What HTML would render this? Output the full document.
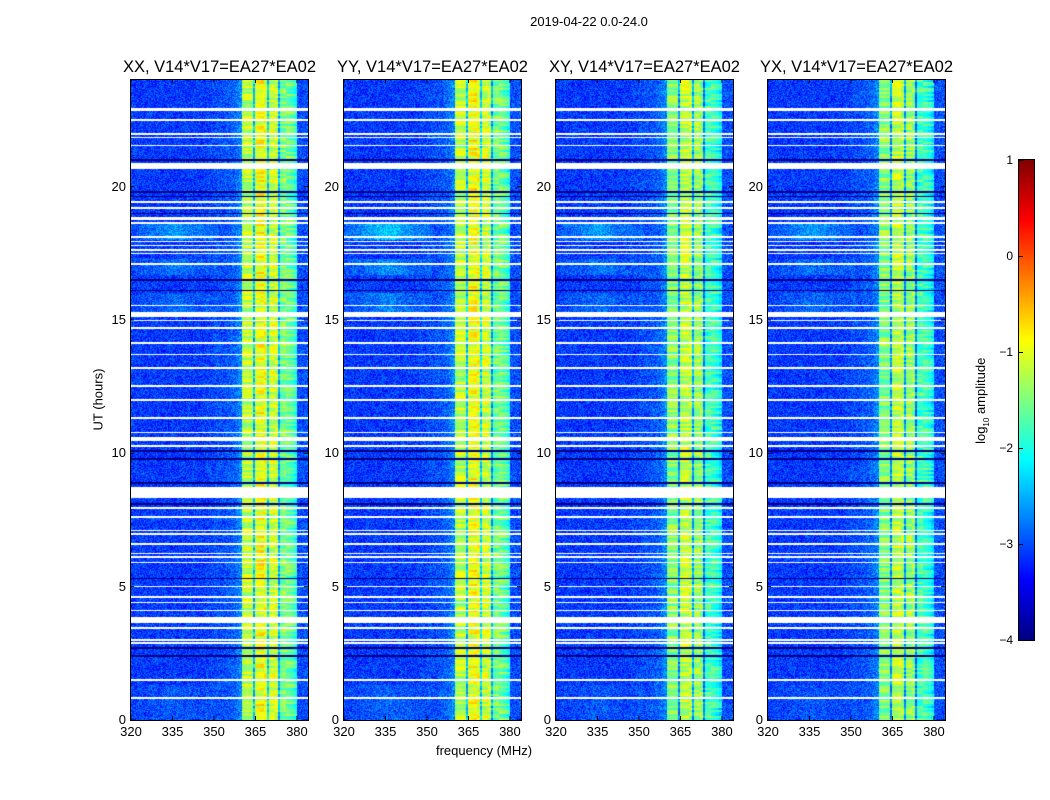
<!DOCTYPE html>
<html><head><meta charset="utf-8">
<style>
body{margin:0;background:#fff;width:1050px;height:800px;overflow:hidden;font-family:"Liberation Sans","DejaVu Sans",sans-serif;}
#wrap{position:relative;width:1050px;height:800px;}
.t{position:absolute;white-space:nowrap;color:#000;}
canvas{position:absolute;}
</style></head><body>
<div id="wrap">
<div class="t" style="left:489px;top:14px;width:200px;text-align:center;font-size:13px;">2019-04-22 0.0-24.0</div>
<div class="t" style="left:48px;top:392px;width:100px;text-align:center;font-size:13px;transform:rotate(-90deg);">UT (hours)</div>
<div class="t" style="left:384px;top:743px;width:200px;text-align:center;font-size:13px;">frequency (MHz)</div>
<div class="t" style="left:922px;top:392px;width:120px;text-align:center;font-size:13px;transform:rotate(-90deg);">log<sub style="font-size:8px">10</sub> amplitude</div>
<canvas id="cb" width="15" height="480" style="left:1019px;top:160px;border:1px solid #000;box-sizing:content-box;margin:-1px;"></canvas>
</div>
<script>
const panelTitles=["XX, V14*V17=EA27*EA02","YY, V14*V17=EA27*EA02","XY, V14*V17=EA27*EA02","YX, V14*V17=EA27*EA02"];
const panelLeft=[131,344,556,768];
const panelBandOffset=[0,0,-0.25,-0.25];
const xTicks=[320,335,350,365,380];
const yTicks=[0,5,10,15,20];
const cbTicks=[-4,-3,-2,-1,0,1];
// log10 amplitude per 1-MHz channel, 320..383 MHz
const chanProfile=[-3.1,-3.1,-3.1,-3.1,-3.1,-3.1,-3.1,-3.1,-3.1,-3.1,
-3.1,-3.1,-3.1,-3.1,-3.1,-3.1,-3.1,-3.1,-3.1,-3.1,
-3.1,-3.1,-3.1,-3.1,-3.1,-3.1,-3.1,-3.05,-3.05,-3.05,
-3.0,-3.0,-3.0,-3.0,-2.95,-2.95,-2.9,-2.9,-2.8,-2.7,
-1.3,-1.2,-1.2,-1.25,-2.4,-1.0,-0.95,-0.9,-1.0,-2.3,
-1.15,-1.1,-1.15,-2.5,-1.6,-1.5,-1.55,-1.6,-1.7,-1.9,
-3.0,-3.0,-3.0,-3.0];
// flagged (white) time intervals, hours
const flagged=[[22.85,22.95],[22.45,22.52],[21.95,22.02],[21.83,21.88],[21.52,21.58],[20.68,20.88],[19.38,19.45],[19.18,19.25],[18.75,18.85],[18.6,18.67],
[18.08,18.14],[17.92,17.97],[17.78,17.83],[17.6,17.66],[17.48,17.53],[17.05,17.12],[15.52,15.58],[15.1,15.3],[14.95,15.0],[14.65,14.72],[14.1,14.17],[13.68,13.74],[13.18,13.24],
[12.5,12.57],[11.98,12.04],[11.3,11.36],[10.75,10.8],[10.45,10.62],[10.25,10.32],[8.32,8.72],[7.93,8.0],[7.58,7.64],[7.08,7.14],[6.95,7.0],[6.58,6.64],[6.22,6.28],[6.08,6.14],[5.87,5.93],
[4.98,5.04],[4.58,4.64],[4.38,4.44],[4.08,4.14],[3.64,3.86],[3.43,3.49],[2.98,3.04],[2.86,2.92],[1.47,1.55],[0.8,0.86]];
// dark (near-zero) time intervals, hours
const dark=[[20.96,21.04],[19.78,19.84],[19.6,19.66],[18.97,19.03],[16.48,16.53],[16.08,16.13],[10.05,10.12],[9.75,9.82],[8.86,8.94],[8.08,8.13],[5.28,5.33],[2.68,2.73],[2.38,2.43]];
// time segments with elevated background in left part (hours, boost)
const bgBoost=[[18.0,18.6,0.5],[16.7,17.3,0.3],[15.3,16.0,0.25],[0,1.3,0.15]];

const W=177,H=640,fmin=320,fmax=384,tmax=24,top0=80;
const wrap=document.getElementById('wrap');
function xScale(f){return (f-fmin)/(fmax-fmin)*W;}
function yScale(h){return H-h/tmax*H;}
function jet(t){t=Math.max(0,Math.min(1,t));
 const r=Math.max(0,Math.min(1,1.5-Math.abs(4*t-3)));
 const g=Math.max(0,Math.min(1,1.5-Math.abs(4*t-2)));
 const b=Math.max(0,Math.min(1,1.5-Math.abs(4*t-1)));
 return [r*255|0,g*255|0,b*255|0];}
function hash(a,b){let h=(a*374761393+b*668265263)|0;h=(h^(h>>>13))*1274126177|0;return ((h^(h>>>16))>>>0)/4294967296;}
function inIv(list,h){for(const iv of list){if(h>=iv[0]&&h<=iv[1])return iv;}return null;}
function addText(txt,x,y,name,style){const d=document.createElement('div');d.className='t';d.textContent=txt;
 
 
 d.style.cssText+=style;d.style.left=x+'px';d.style.top=y+'px';wrap.appendChild(d);return d;}

panelLeft.forEach((L,p)=>{
 const c=document.createElement('canvas');c.width=W;c.height=H;
 c.style.left=L+'px';c.style.top=top0+'px';
 
 
 wrap.appendChild(c);
 const ctx=c.getContext('2d');const img=ctx.createImageData(W,H);
 for(let y=0;y<H;y++){
  const h=(H-y-0.5)/H*tmax;
  const fl=inIv(flagged,h), dk=inIv(dark,h), bb=inIv(bgBoost,h);
  for(let x=0;x<W;x++){
   let r,g,b;
   if(fl){r=g=b=255;}
   else{
    const f=fmin+(x+0.5)/W*(fmax-fmin);
    const ch=Math.min(chanProfile.length-1,Math.floor(f-fmin));
    let v=chanProfile[ch];
    const inBand=v>-2.6;
    if(inBand){v+=panelBandOffset[p]+(hash(y>>1,p*31+(ch>>2))-0.5)*0.7+(hash(x,y)-0.5)*0.15;}
    else{ if(bb&&f<352)v+=bb[2]*(p==1?1.5:1)*(1-Math.abs(f-336)/20); v+=(hash(x,y+p*1000)-0.5)*0.75;}
    if(dk)v=-4.3;
    [r,g,b]=jet((v+4)/5);
   }
   const i=(y*W+x)*4;img.data[i]=r;img.data[i+1]=g;img.data[i+2]=b;img.data[i+3]=255;
  }
 }
 ctx.putImageData(img,0,0);
 const svgNS='http://www.w3.org/2000/svg';
 const s=document.createElementNS(svgNS,'svg');s.setAttribute('width',W+2);s.setAttribute('height',H+2);
 s.style.cssText='position:absolute;left:'+(L-1)+'px;top:'+(top0-1)+'px;overflow:visible';
 
 
 let html='<rect x="0.5" y="0.5" width="'+(W+1)+'" height="'+(H+1)+'" fill="none" stroke="#000"/>';
 xTicks.forEach(t=>{const x=xScale(t)+1;html+='<line x1="'+x+'" x2="'+x+'" y1="'+(H+1)+'" y2="'+(H-3)+'" stroke="#000"/><line x1="'+x+'" x2="'+x+'" y1="0" y2="4" stroke="#000"/>';});
 yTicks.forEach(t=>{const y=yScale(t)+1;html+='<line x1="0" x2="4" y1="'+y+'" y2="'+y+'" stroke="#000"/><line x1="'+(W+1)+'" x2="'+(W-3)+'" y1="'+y+'" y2="'+y+'" stroke="#000"/>';});
 s.innerHTML=html;wrap.appendChild(s);
 addText(panelTitles[p],L-22,58,'panel-title-'+(p+1),'width:221px;text-align:center;font-size:16.5px;');
 xTicks.forEach(t=>addText(String(t),L+xScale(t)-20,724,'x-tick-label','width:40px;text-align:center;font-size:13px;'));
 yTicks.forEach(t=>addText(String(t),L-45,top0+yScale(t)-8,'y-tick-label','width:40px;text-align:right;font-size:13px;'));
});
const cb=document.getElementById('cb'),cctx=cb.getContext('2d');
for(let y=0;y<480;y++){const [r,g,b]=jet(1-(y+0.5)/480);cctx.fillStyle='rgb('+r+','+g+','+b+')';cctx.fillRect(0,y,15,1);}
cbTicks.forEach(t=>{const y=160+(1-t)/5*480;
 addText(t<0?'\u2212'+(-t):String(t),975,y-7,'colorbar-tick-label','width:38px;text-align:right;font-size:12px;');
 const tk=document.createElement('div');
 
 
 tk.style.cssText='position:absolute;left:1019px;width:4px;height:1px;background:#000;top:'+y+'px';wrap.appendChild(tk);
});
</script>
</body></html>
